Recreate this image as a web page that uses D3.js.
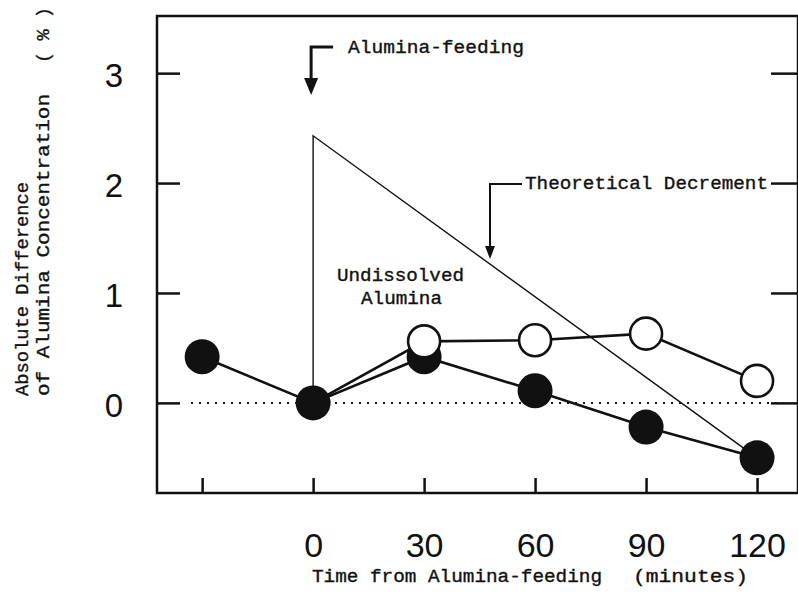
<!DOCTYPE html>
<html>
<head>
<meta charset="utf-8">
<script src="https://cdn.jsdelivr.net/npm/d3@7"></script>
<style>
  html, body { margin: 0; padding: 0; background: #fff; }
  svg { display: block; }
  .mono { font-family: "Liberation Mono", "DejaVu Sans Mono", monospace; fill: #111; stroke: #111; stroke-width: 0.35; }
  .num { font-family: "Liberation Sans", Arial, sans-serif; fill: #111; }
</style>
</head>
<body>
<svg id="chart" width="798" height="592"></svg>
<script>
// ---- data ----
const xTicks = [-30, 0, 30, 60, 90, 120];
const xTickLabels = ["", "0", "30", "60", "90", "120"];
const yTicks = [0, 1, 2, 3];
const yTickLabels = ["0", "1", "2", "3"];

const filledTimes = [-30, 0, 30, 60, 90, 120];
const filledValues = [0.42, 0, 0.42, 0.11, -0.22, -0.50];

const openTimes = [0, 30, 60, 90, 120];
const openValues = [0, 0.56, 0.57, 0.63, 0.20];
const openMarkerStart = 1; // first point is shared with filled series (no open marker)

const theoryTimes = [0, 0, 120];
const theoryValues = [0, 2.43, -0.50];

// ---- layout ----
const plot = { left: 157, right: 797, top: 16, bottom: 493 };

const svg = d3.select("#chart");
const x = d3.scaleLinear().domain([-42.2, 130.8]).range([plot.left, plot.right]);
const y = d3.scaleLinear().domain([-0.82, 3.52]).range([plot.bottom, plot.top]);

const ink = "#111";

// frame
svg.append("rect")
  .attr("x", plot.left).attr("y", plot.top)
  .attr("width", plot.right - plot.left + 1).attr("height", plot.bottom - plot.top)
  .attr("fill", "none").attr("stroke", ink).attr("stroke-width", 2.5);

// left axis (inward ticks)
const leftAxis = svg.append("g")
  .attr("transform", `translate(${plot.left},0)`)
  .call(d3.axisLeft(y).tickValues(yTicks).tickSize(-23).tickPadding(43)
    .tickFormat((d, i) => yTickLabels[i]));
leftAxis.select(".domain").remove();
leftAxis.selectAll(".tick line").attr("stroke", ink).attr("stroke-width", 2.5);
leftAxis.selectAll(".tick text")
  .attr("class", "num").attr("text-anchor", "middle")
  .attr("font-size", 33).attr("dy", "0.4em");

// right axis (inward ticks, no labels)
const rightAxis = svg.append("g")
  .attr("transform", `translate(${plot.right},0)`)
  .call(d3.axisRight(y).tickValues(yTicks).tickSize(-26).tickFormat(""));
rightAxis.select(".domain").remove();
rightAxis.selectAll(".tick line").attr("stroke", ink).attr("stroke-width", 2.5);

// bottom axis (inward ticks)
const bottomAxis = svg.append("g")
  .attr("transform", `translate(0,${plot.bottom})`)
  .call(d3.axisBottom(x).tickValues(xTicks).tickSize(-15).tickPadding(40)
    .tickFormat((d, i) => xTickLabels[i]));
bottomAxis.select(".domain").remove();
bottomAxis.selectAll(".tick line").attr("stroke", ink).attr("stroke-width", 2.5);
bottomAxis.selectAll(".tick text")
  .attr("class", "num").attr("font-size", 34).attr("dy", "0.71em");

// dotted zero line
svg.append("line")
  .attr("x1", x(-33)).attr("x2", x(126))
  .attr("y1", y(0)).attr("y2", y(0))
  .attr("stroke", ink).attr("stroke-width", 2)
  .attr("stroke-dasharray", "2,6");

// theoretical decrement line
const line = d3.line().x(d => x(d[0])).y(d => y(d[1]));
svg.append("path")
  .datum(theoryTimes.map((t, i) => [t, theoryValues[i]]))
  .attr("d", line).attr("fill", "none")
  .attr("stroke", ink).attr("stroke-width", 1.4);

// series lines
const openPts = openTimes.map((t, i) => [t, openValues[i]]);
const filledPts = filledTimes.map((t, i) => [t, filledValues[i]]);
svg.append("path").datum(openPts).attr("d", line)
  .attr("fill", "none").attr("stroke", ink).attr("stroke-width", 2.6);
svg.append("path").datum(filledPts).attr("d", line)
  .attr("fill", "none").attr("stroke", ink).attr("stroke-width", 2.6);

// markers
svg.selectAll("circle.filled").data(filledPts).enter().append("circle")
  .attr("class", "filled")
  .attr("cx", d => x(d[0])).attr("cy", d => y(d[1]))
  .attr("r", 17.5).attr("fill", ink);
svg.selectAll("circle.open").data(openPts.slice(openMarkerStart)).enter().append("circle")
  .attr("class", "open")
  .attr("cx", d => x(d[0])).attr("cy", d => y(d[1]))
  .attr("r", 16).attr("fill", "#fff").attr("stroke", ink).attr("stroke-width", 2.6);

// ---- annotations ----
// Alumina-feeding arrow
const ax = x(0) - 2;
svg.append("path")
  .attr("d", `M${ax + 22},47 H${ax} V80`)
  .attr("fill", "none").attr("stroke", ink).attr("stroke-width", 3);
svg.append("path")
  .attr("d", `M${ax - 7},78 L${ax + 7},78 L${ax},95 Z`)
  .attr("fill", ink);
svg.append("text").attr("class", "mono")
  .attr("x", 348).attr("y", 53).attr("font-size", 18)
  .attr("textLength", 176).attr("lengthAdjust", "spacingAndGlyphs")
  .text("Alumina-feeding");

// Theoretical Decrement arrow
svg.append("path")
  .attr("d", `M522,184 H490 V248`)
  .attr("fill", "none").attr("stroke", ink).attr("stroke-width", 2);
svg.append("path")
  .attr("d", `M485,246 L495,246 L490,259 Z`)
  .attr("fill", ink);
svg.append("text").attr("class", "mono")
  .attr("x", 525).attr("y", 189).attr("font-size", 18)
  .attr("textLength", 243).attr("lengthAdjust", "spacingAndGlyphs")
  .text("Theoretical Decrement");

// Undissolved Alumina
svg.append("text").attr("class", "mono")
  .attr("x", 337).attr("y", 281).attr("font-size", 18)
  .attr("textLength", 127).attr("lengthAdjust", "spacingAndGlyphs")
  .text("Undissolved");
svg.append("text").attr("class", "mono")
  .attr("x", 361).attr("y", 304).attr("font-size", 18)
  .attr("textLength", 81).attr("lengthAdjust", "spacingAndGlyphs")
  .text("Alumina");

// x axis title
svg.append("text").attr("class", "mono")
  .attr("x", 312).attr("y", 582).attr("font-size", 18)
  .attr("textLength", 290).attr("lengthAdjust", "spacingAndGlyphs")
  .text("Time from Alumina-feeding");
svg.append("text").attr("class", "mono")
  .attr("x", 633).attr("y", 582).attr("font-size", 18)
  .attr("textLength", 115).attr("lengthAdjust", "spacingAndGlyphs")
  .text("(minutes)");

// y axis title (rotated)
const yt = svg.append("g");
yt.append("text").attr("class", "mono")
  .attr("transform", "translate(28,396) rotate(-90)")
  .attr("font-size", 18)
  .attr("textLength", 214).attr("lengthAdjust", "spacingAndGlyphs")
  .text("Absolute Difference");
yt.append("text").attr("class", "mono")
  .attr("transform", "translate(49,396) rotate(-90)")
  .attr("font-size", 18)
  .attr("textLength", 302).attr("lengthAdjust", "spacingAndGlyphs")
  .text("of Alumina Concentration");
yt.append("text").attr("class", "mono")
  .attr("transform", "translate(49,63) rotate(-90)")
  .attr("font-size", 18)
  .attr("textLength", 56).attr("lengthAdjust", "spacingAndGlyphs")
  .text("( % )");
</script>
</body>
</html>
